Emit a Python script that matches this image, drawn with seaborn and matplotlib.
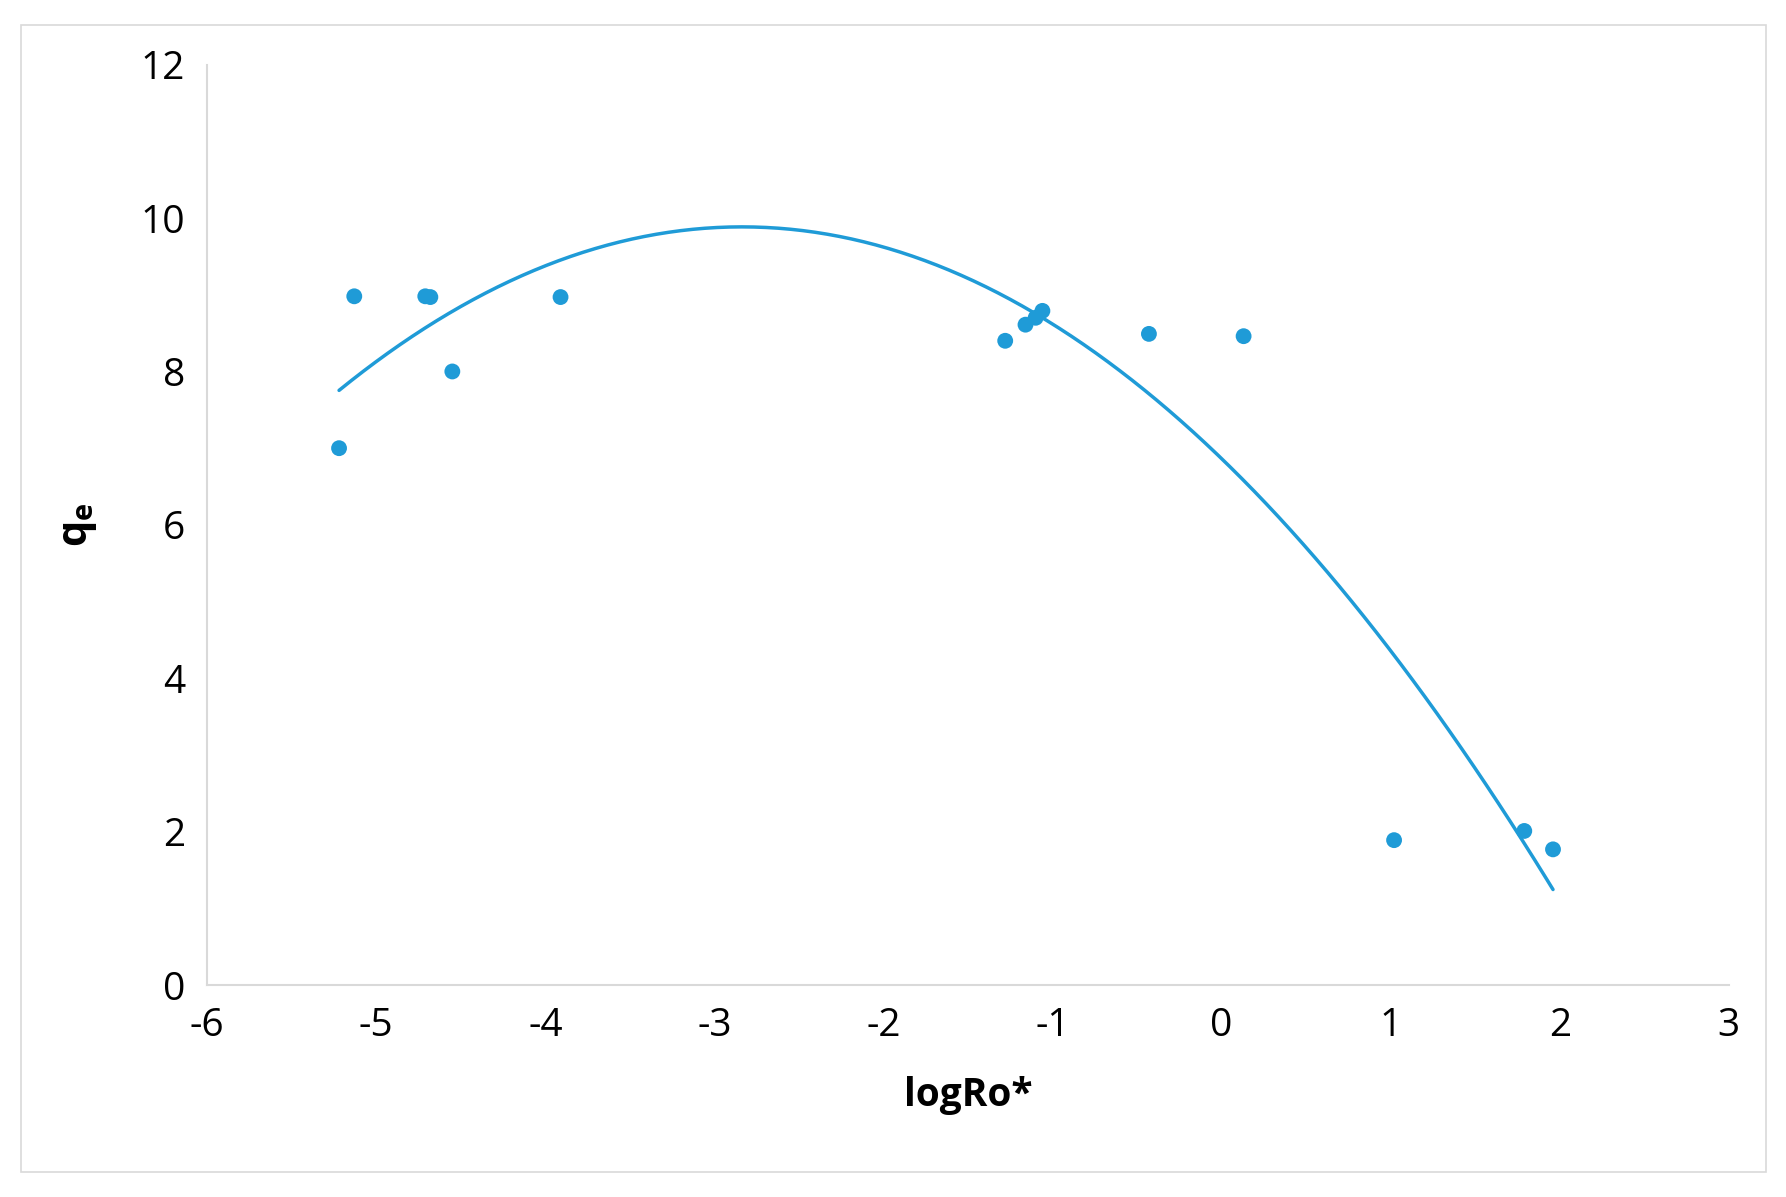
import matplotlib
matplotlib.use("Agg")
import matplotlib.pyplot as plt
import numpy as np
import seaborn as sns
from matplotlib.patches import Rectangle

log_ro = [-5.22, -5.13, -4.71, -4.68, -4.55, -3.91, -1.28, -1.16, -1.10, -1.06,
          -0.43, 0.13, 1.02, 1.79, 1.96]
qe = [7.0, 8.98, 8.98, 8.97, 8.0, 8.97, 8.40, 8.61, 8.70, 8.79,
      8.49, 8.46, 1.89, 2.01, 1.77]

sns.set_theme(style="white")
plt.rcParams["font.family"] = ["Open Sans", "DejaVu Sans"]
plt.rcParams["axes.unicode_minus"] = False
color = "#1f9bd7"

fig = plt.figure(figsize=(17.86, 11.97), dpi=100)
ax = fig.add_axes([0.116, 0.177, 0.852, 0.769])
fig.patches.append(Rectangle((0.012, 0.021), 0.977, 0.958, transform=fig.transFigure,
                             fill=False, edgecolor="#d9d9d9", linewidth=1.2))

sns.scatterplot(x=log_ro, y=qe, ax=ax, color=color, s=130, edgecolor="none", zorder=3)

# second-order trendline through the points
coef = np.polyfit(log_ro, qe, 2)
xs = np.linspace(min(log_ro), max(log_ro), 200)
sns.lineplot(x=xs, y=np.polyval(coef, xs), ax=ax, color=color, linewidth=2.5)

ax.set_xlim(-6, 3)
ax.set_ylim(0, 12)
ax.set_xticks(range(-6, 4))
ax.set_yticks(range(0, 13, 2))
ax.tick_params(labelsize=28, pad=16, length=0, labelcolor="black")
for side in ["top", "right"]:
    ax.spines[side].set_visible(False)
for side in ["left", "bottom"]:
    ax.spines[side].set_color("#d9d9d9")
    ax.spines[side].set_linewidth(1.5)
ax.set_xlabel("logRo*", fontsize=28, fontweight="bold", labelpad=22, color="black")
ax.set_ylabel("q$_\\mathregular{e}$", fontsize=30, fontweight="bold", labelpad=30, color="black")

plt.savefig("out.png", dpi=100)
